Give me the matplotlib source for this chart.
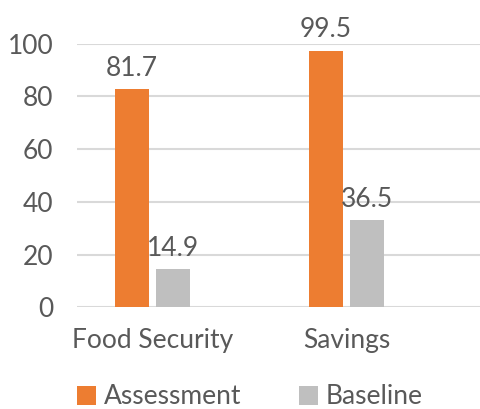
import numpy as np
import matplotlib.pyplot as plt

plt.rcParams['font.family'] = ['Lato', 'DejaVu Sans']

categories = ["Food Security", "Savings"]
series = ["Assessment", "Baseline"]
# bar heights as drawn, and the value labels printed over them
assessment = [82.7, 97.3]
baseline = [14.4, 33.1]
assessment_labels = ["81.7", "99.5"]
baseline_labels = ["14.9", "36.5"]

orange = "#ED7D31"
grey = "#BFBFBF"
text_col = "#595959"

fig = plt.figure(figsize=(4.81, 4.09), dpi=100)
ax = fig.add_axes([77 / 481, 101.7 / 409, 404 / 481, 263.6 / 409])

x = np.arange(len(categories))
w = 0.175
off = 0.106
b1 = ax.bar(x - off, assessment, w, color=orange, label=series[0], zorder=3)
b2 = ax.bar(x + off, baseline, w, color=grey, label=series[1], zorder=3)

for bars, labs in [(b1, assessment_labels), (b2, baseline_labels)]:
    for rect, lab in zip(bars, labs):
        ax.annotate(lab, (rect.get_x() + rect.get_width() / 2, rect.get_height()),
                    xytext=(0, 6), textcoords="offset points", ha="center", va="bottom",
                    fontsize=19, color=text_col, annotation_clip=False)

ax.set_ylim(0, 100)
ax.set_xlim(-0.389, 1.693)
ax.set_yticks(range(0, 101, 20))
ax.set_xticks(x)
ax.set_xticklabels(categories)
ax.yaxis.grid(True, color="#D9D9D9", linewidth=1.5, zorder=0)
ax.set_axisbelow(True)
for s in ax.spines.values():
    s.set_visible(False)
ax.tick_params(axis="both", length=0, labelsize=19, labelcolor=text_col)
ax.tick_params(axis="y", pad=17)
ax.tick_params(axis="x", pad=15)

fig.legend(handles=[b1, b2], loc="center", bbox_to_anchor=(250 / 481, 12 / 409),
           ncol=2, frameon=False, fontsize=19, labelcolor=text_col,
           handlelength=0.7, handleheight=0.7, handletextpad=0.3, columnspacing=2.2)

fig.savefig("out.png", dpi=100)
